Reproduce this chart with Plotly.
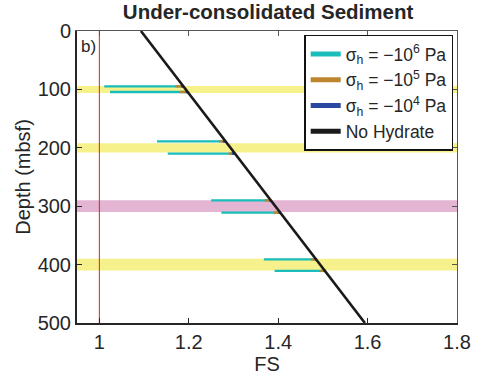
import plotly.graph_objects as go

# ---- data ----
band_depth = [100, 200, 300, 400]
band_half = [6, 8, 10, 10]
band_color = ["#F6F18A", "#F6F18A", "#E4B4D3", "#F6F18A"]

# layer boundaries (depth, mbsf)
seg_depth = [94.8, 104.4, 189, 210, 290, 311, 391, 410.8]
# start FS of each hydrate-stress case
fs_1e6 = [1.011, 1.024, 1.129, 1.153, 1.250, 1.273, 1.368, 1.392]
fs_1e5 = [1.170, 1.180, 1.268, 1.289, 1.370, 1.390, 1.473, 1.494]
fs_1e4 = [1.183, 1.193, 1.276, 1.296, 1.380, 1.401, 1.482, 1.502]
# no-hydrate FS at the same depths
fs_none_seg = [1.188, 1.198, 1.281, 1.302, 1.384, 1.405, 1.486, 1.506]

nohyd_depth = [0, 500]
nohyd_fs = [1.093, 1.594]

x_ticks = [1, 1.2, 1.4, 1.6, 1.8]
y_ticks = [0, 100, 200, 300, 400, 500]

FONT = "Liberation Sans, Arial, Helvetica, sans-serif"
TXT = "#262626"

fig = go.Figure()

def seg_trace(starts, color, name):
    xs, ys = [], []
    for d, s, e in zip(seg_depth, starts, fs_none_seg):
        xs += [s, e, None]
        ys += [d, d, None]
    return go.Scatter(x=xs, y=ys, mode="lines", line=dict(color=color, width=2.4),
                      name=name, showlegend=False, hoverinfo="skip")

fig.add_trace(seg_trace(fs_1e6, "#19BDBA", "c"))
fig.add_trace(seg_trace(fs_1e5, "#BE852F", "o"))
fig.add_trace(seg_trace(fs_1e4, "#2A48A0", "b"))

# red reference line at FS = 1
fig.add_trace(go.Scatter(x=[1, 1], y=[0, 500], mode="lines",
                         line=dict(color="#D42424", width=1), showlegend=False, hoverinfo="skip"))

fig.add_trace(go.Scatter(x=nohyd_fs, y=nohyd_depth, mode="lines",
                         line=dict(color="#1a1a1a", width=2.6), showlegend=False))

# legend entries
for name, col in [("σ<sub>h</sub> = −10<sup>6</sup> Pa", "#19BDBA"),
                  ("σ<sub>h</sub> = −10<sup>5</sup> Pa", "#BE852F"),
                  ("σ<sub>h</sub> = −10<sup>4</sup> Pa", "#2A48A0"),
                  ("No Hydrate", "#1a1a1a")]:
    fig.add_trace(go.Scatter(x=[None], y=[None], mode="lines",
                             line=dict(color=col, width=2), name=name))

shapes = []
for d, h, c in zip(band_depth, band_half, band_color):
    shapes.append(dict(type="rect", xref="x domain", yref="y", x0=0, x1=1,
                       y0=d - h, y1=d + h, fillcolor=c, line=dict(width=0), layer="below"))

fig.update_layout(
    width=483, height=381,
    margin=dict(l=77, r=24, t=31, b=53),
    paper_bgcolor="white", plot_bgcolor="white",
    font=dict(family=FONT, size=20, color=TXT),
    title=dict(text="<b>Under-consolidated Sediment</b>", x=0.555, xanchor="center",
               y=0.968, yanchor="middle", font=dict(size=20.5, color=TXT)),
    shapes=shapes,
    showlegend=True,
    legend=dict(x=0.99, y=0.988, xanchor="right", yanchor="top",
                bgcolor="white", bordercolor="#111", borderwidth=1.5,
                font=dict(size=17.5, color=TXT), itemwidth=30,
                tracegroupgap=0, itemsizing="constant"),
    xaxis=dict(range=[0.95, 1.8], tickvals=x_ticks, ticktext=[str(v) for v in x_ticks],
               ticks="inside", ticklen=5, tickcolor=TXT, showline=True, linecolor=TXT,
               linewidth=2, showgrid=False, zeroline=False,
               title=dict(text="FS", standoff=2, font=dict(size=20)),
               tickfont=dict(size=20)),
    yaxis=dict(range=[500, 0], tickvals=y_ticks, ticks="inside", ticklen=5, tickcolor=TXT,
               showline=True, linecolor=TXT, linewidth=2, showgrid=False, zeroline=False,
               title=dict(text="Depth (mbsf)", standoff=2, font=dict(size=20)),
               tickfont=dict(size=20)),
    xaxis2=dict(range=[0.95, 1.8], overlaying="x", side="top", tickvals=x_ticks,
                showticklabels=False, ticks="inside", ticklen=5, tickcolor="#555",
                showline=True, linecolor="#555", linewidth=1, showgrid=False, zeroline=False),
    yaxis2=dict(range=[500, 0], overlaying="y", side="right", tickvals=y_ticks,
                showticklabels=False, ticks="inside", ticklen=5, tickcolor="#555",
                showline=True, linecolor="#555", linewidth=1, showgrid=False, zeroline=False),
)

# dummy trace to activate secondary axes
fig.add_trace(go.Scatter(x=[None], y=[None], xaxis="x2", yaxis="y2", showlegend=False))

fig.add_annotation(text="b)", xref="paper", yref="paper", x=0.006, y=0.985,
                   xanchor="left", yanchor="top", showarrow=False, font=dict(size=17, color=TXT))

fig.write_html("out.html")
